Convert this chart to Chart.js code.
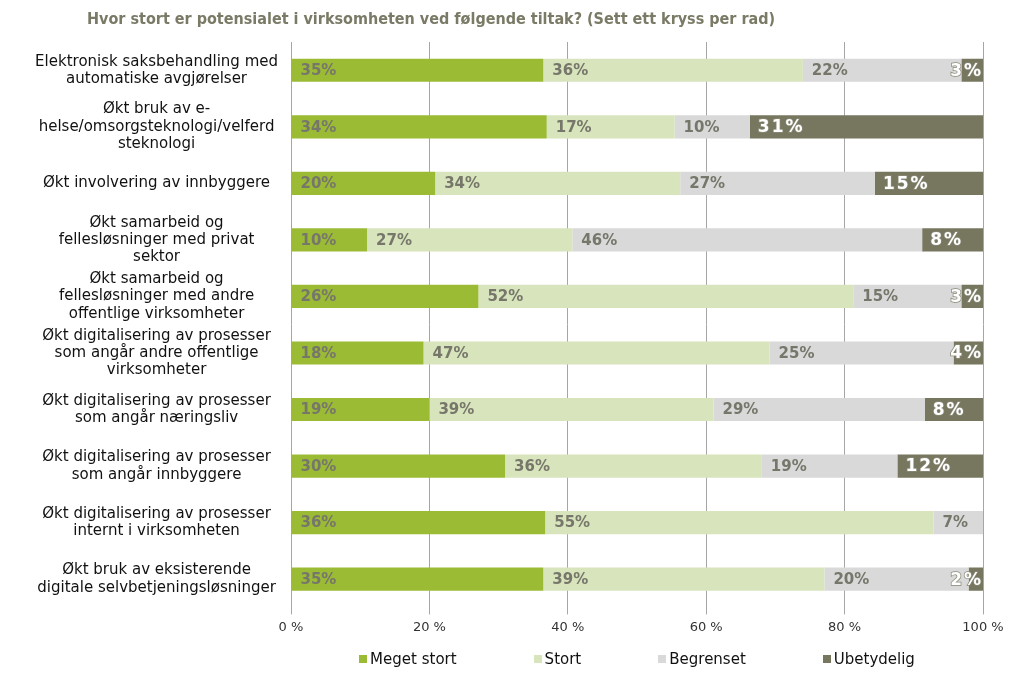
<!DOCTYPE html>
<html>
<head>
<meta charset="utf-8">
<script src="https://cdn.jsdelivr.net/npm/chart.js@4.4.1/dist/chart.umd.min.js"></script>
<style>
  html, body { margin: 0; padding: 0; background: #fff; }
  #wrap { position: relative; width: 1024px; height: 693px; }
  #legend {
    position: absolute; left: 291px; width: 692px; top: 650px;
    display: flex; justify-content: center; gap: 77px;
    font: 15px "DejaVu Sans", Verdana, sans-serif; color: #111;
  }
  #legend span.item { display: flex; align-items: center; }
  #legend i { display: inline-block; width: 8px; height: 8px; margin-right: 3px; }
</style>
</head>
<body>
<div id="wrap">
  <canvas id="chart" width="1024" height="693"></canvas>
  <div id="legend"></div>
</div>
<script>
const title = "Hvor stort er potensialet i virksomheten ved følgende tiltak? (Sett ett kryss per rad)";

const categories = [
  ["Elektronisk saksbehandling med", "automatiske avgjørelser"],
  ["Økt bruk av e-", "helse/omsorgsteknologi/velferd", "steknologi"],
  ["Økt involvering av innbyggere"],
  ["Økt samarbeid og", "fellesløsninger med privat", "sektor"],
  ["Økt samarbeid og", "fellesløsninger med andre", "offentlige virksomheter"],
  ["Økt digitalisering av prosesser", "som angår andre offentlige", "virksomheter"],
  ["Økt digitalisering av prosesser", "som angår næringsliv"],
  ["Økt digitalisering av prosesser", "som angår innbyggere"],
  ["Økt digitalisering av prosesser", "internt i virksomheten"],
  ["Økt bruk av eksisterende", "digitale selvbetjeningsløsninger"]
];

const seriesNames = ["Meget stort", "Stort", "Begrenset", "Ubetydelig"];
const meget = [35, 34, 20, 10, 26, 18, 19, 30, 36, 35];
const stort = [36, 17, 34, 27, 52, 47, 39, 36, 55, 39];
const begrenset = [22, 10, 27, 46, 15, 25, 29, 19, 7, 20];
const ubetydelig = [3, 31, 15, 8, 3, 4, 8, 12, 0, 2];

const xTicks = [0, 20, 40, 60, 80, 100];

const colors = ["#9bbb34", "#d7e4bc", "#d9d9d9", "#77775f"];

const raw = [meget, stort, begrenset, ubetydelig];
// bars are drawn as share of the answered total per row
const rowTotals = categories.map((c, i) => raw.reduce((s, arr) => s + arr[i], 0));

const datasets = raw.map((vals, k) => ({
  label: seriesNames[k],
  data: vals.map((v, i) => v / rowTotals[i] * 100),
  rawValues: vals,
  backgroundColor: colors[k],
  borderWidth: 0,
  categoryPercentage: 1,
  barPercentage: 0.41
}));

const titlePlugin = {
  id: "titleText",
  afterDraw(chart) {
    const c = chart.ctx;
    c.save();
    c.font = "bold 16px 'DejaVu Sans Condensed', 'DejaVu Sans', sans-serif";
    c.fillStyle = "#7a7a66";
    c.textBaseline = "middle";
    c.textAlign = "left";
    c.fillText(title, 87, 20);
    c.restore();
  }
};

const labelPlugin = {
  id: "barLabels",
  afterDatasetsDraw(chart) {
    const c = chart.ctx;
    c.save();
    c.textBaseline = "middle";
    c.textAlign = "left";
    chart.data.datasets.forEach((ds, k) => {
      const meta = chart.getDatasetMeta(k);
      meta.data.forEach((bar, i) => {
        const v = ds.rawValues[i];
        if (!v) return;
        const text = v + "%";
        const start = bar.base;
        const end = bar.x;
        if (k === 3) {
          c.font = "bold 17px 'DejaVu Sans', sans-serif";
          c.letterSpacing = "2px";
          const w = c.measureText(text).width;
          const x = Math.min(start + 8, end - w);
          c.lineWidth = 1.5;
          c.strokeStyle = "#8a8a78";
          c.strokeText(text, x, bar.y + 1);
          c.fillStyle = "#ffffff";
          c.fillText(text, x, bar.y + 1);
        } else {
          c.font = "bold 15px 'DejaVu Sans', sans-serif";
          c.letterSpacing = "0px";
          c.fillStyle = "#76766a";
          c.fillText(text, start + 9, bar.y + 1);
        }
      });
    });
    c.restore();
  }
};

const ctx = document.getElementById("chart").getContext("2d");
const chart = new Chart(ctx, {
  type: "bar",
  data: {
    labels: categories,
    datasets: datasets
  },
  plugins: [titlePlugin, labelPlugin],
  options: {
    indexAxis: "y",
    responsive: false,
    animation: false,
    layout: {
      padding: { top: 42, right: 41, bottom: 53, left: 0 }
    },
    plugins: {
      legend: { display: false },
      tooltip: { enabled: false },
      title: { display: false }
    },
    scales: {
      x: {
        stacked: true,
        min: 0,
        max: 100,
        afterBuildTicks: (scale) => {
          scale.ticks = xTicks.map(v => ({ value: v }));
        },
        ticks: {
          callback: (v) => v + " %",
          color: "#333333",
          padding: 5,
          maxRotation: 0,
          font: { family: "'DejaVu Sans', sans-serif", size: 13 }
        },
        grid: {
          color: "#a6a6a6",
          lineWidth: 1,
          drawTicks: true,
          tickLength: 7
        },
        border: { display: false }
      },
      y: {
        stacked: true,
        afterFit: (scale) => { scale.width = 291; },
        grid: { display: false },
        border: { display: false },
        ticks: {
          autoSkip: false,
          crossAlign: "center",
          padding: 5,
          color: "#111111",
          font: { family: "'DejaVu Sans', sans-serif", size: 15, lineHeight: 1.15 }
        }
      }
    }
  }
});

const legendEl = document.getElementById("legend");
chart.data.datasets.forEach((ds) => {
  const item = document.createElement("span");
  item.className = "item";
  item.innerHTML = `<i style="background:${ds.backgroundColor}"></i>${ds.label}`;
  legendEl.appendChild(item);
});
</script>
</body>
</html>
